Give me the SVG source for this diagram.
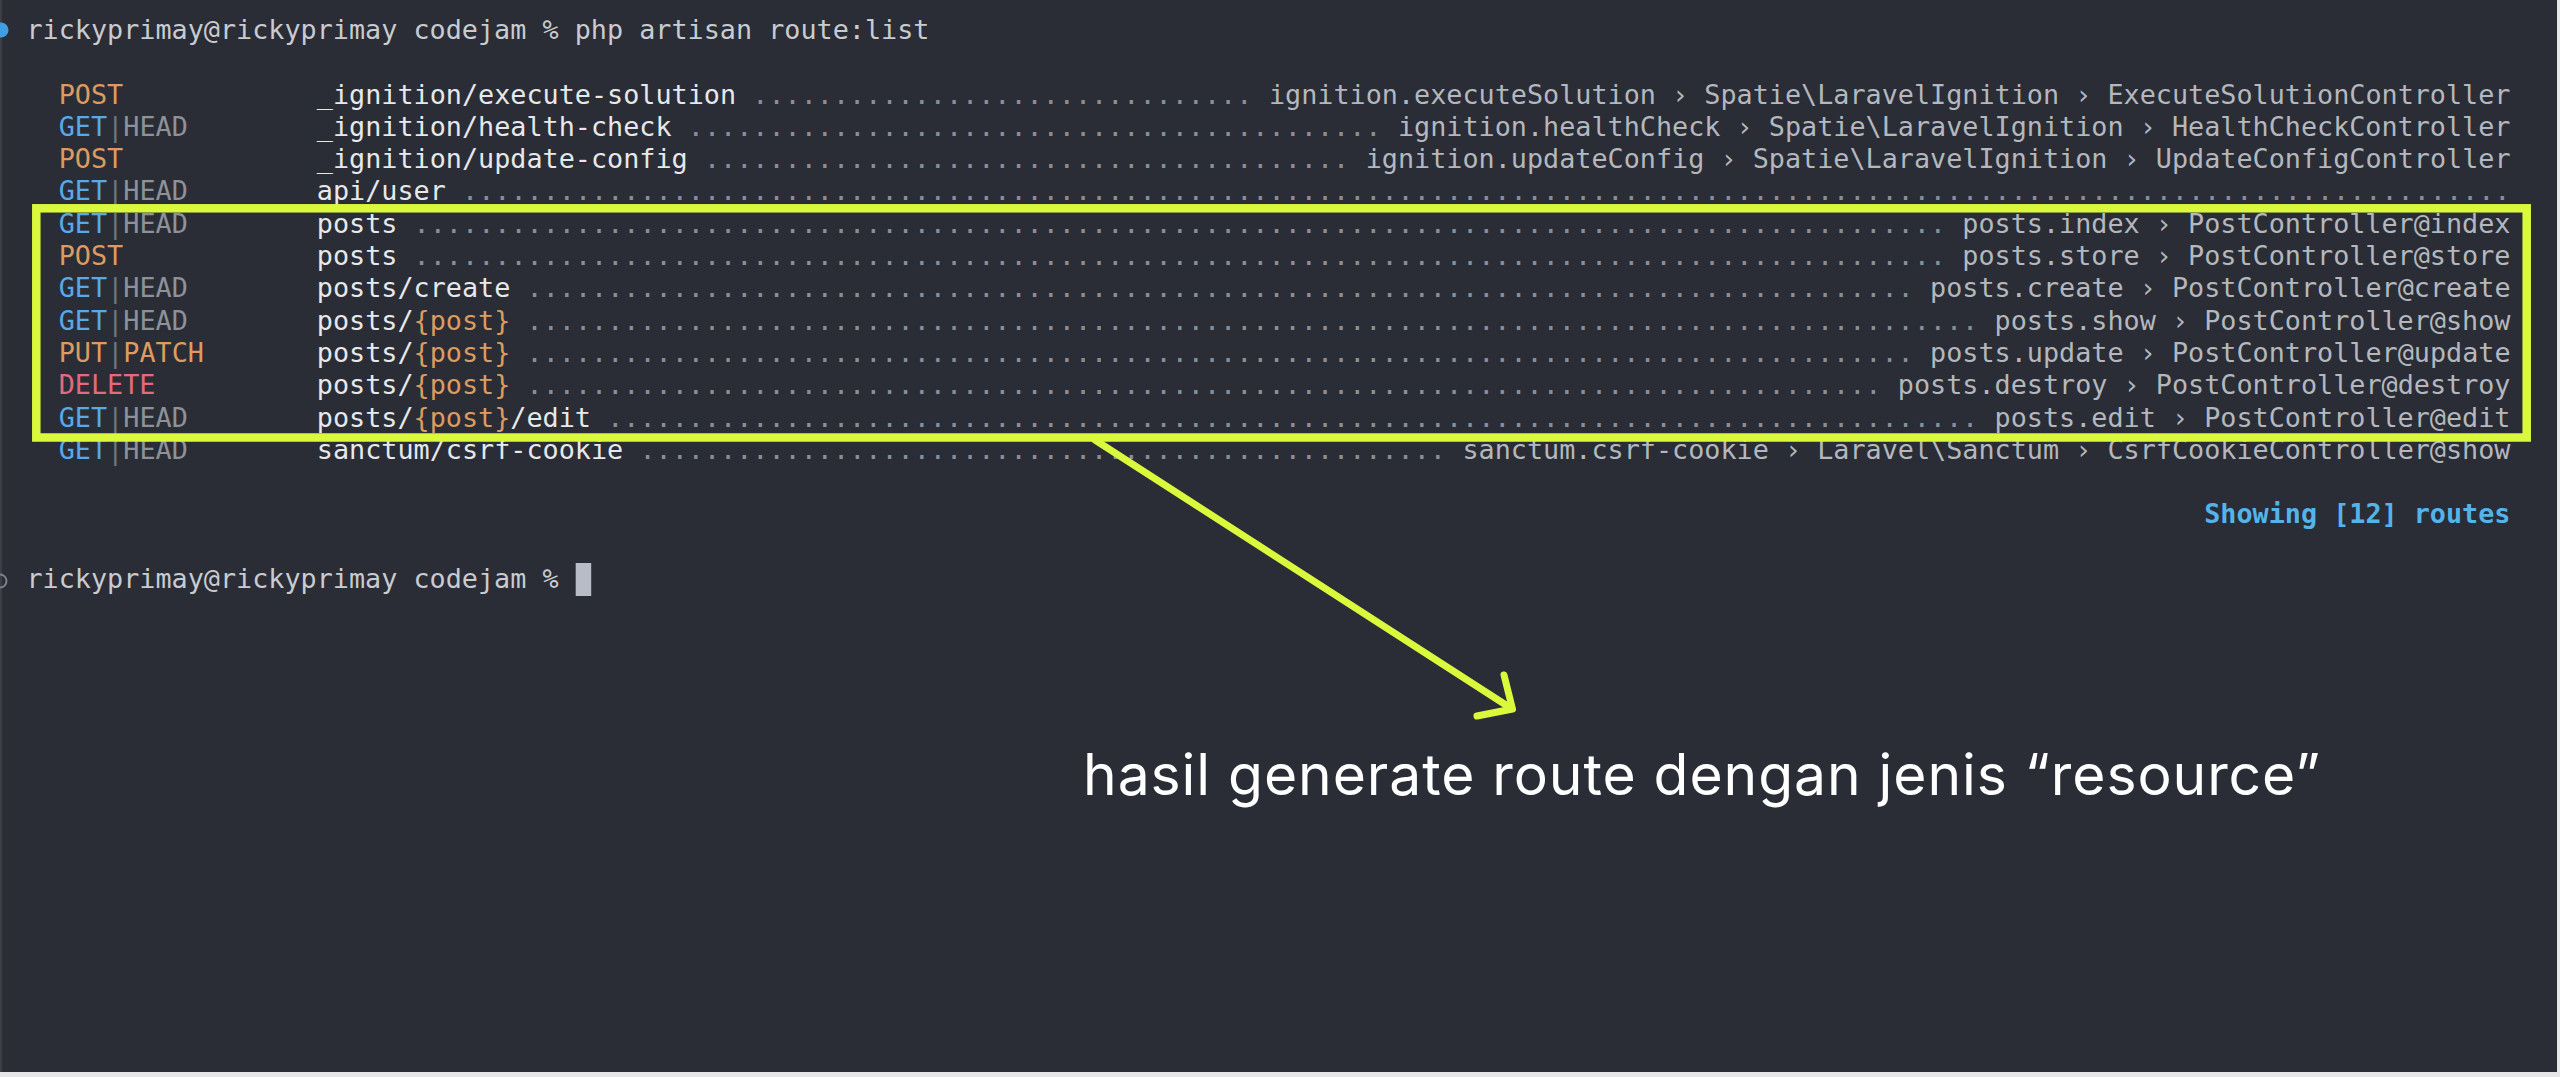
<svg xmlns="http://www.w3.org/2000/svg" width="2560" height="1077" viewBox="0 0 2560 1077">
<style>
.m{font-family:"DejaVu Sans Mono","Liberation Mono",monospace;font-size:26.79px}
.pr{fill:#c8cbd0}
.u{fill:#e6e8eb}
.a{fill:#b4b8be}
.d{fill:#8a8f97}
.g{fill:#58a9e8}
.h{fill:#8d929a}
.s{fill:#6f7582}
.p{fill:#dd9b5f}
.r{fill:#e36a7c}
.hl{fill:none;stroke:#daf93c;stroke-width:8.5}
.ar{fill:none;stroke:#daf93c;stroke-width:7;stroke-linecap:round;stroke-linejoin:round}
.note{font-family:Inter,"Liberation Sans",sans-serif;font-size:57px;fill:#ffffff}
</style>
<rect x="0" y="0" width="2560" height="1077" fill="#2a2d35"/>
<rect x="0" y="0" width="2" height="1077" fill="#3c3f46"/>
<rect x="2557" y="0" width="3" height="1077" fill="#e6e6e8"/>
<rect x="0" y="1072" width="2560" height="5" fill="#e6e6e8"/>

<g id="prompt-1">
<circle cx="1" cy="30" r="7.5" fill="#3e9fe4"/>
<text class="m pr" x="26.5" y="38.9">rickyprimay@rickyprimay codejam % php artisan route:list</text>
</g>

<g id="route-1">
<text class="m" y="103.5"><tspan x="58.76" class="p">POST</tspan></text>
<text class="m u" x="316.84" y="103.5">_ignition/execute-solution</text>
<text class="m d" x="752.35" y="103.5" textLength="500.03" lengthAdjust="spacingAndGlyphs">...............................</text>
<text class="m a" x="2510.5" y="103.5" text-anchor="end">ignition.executeSolution › Spatie\LaravelIgnition › ExecuteSolutionController</text>
</g>
<g id="route-2">
<text class="m" y="135.8"><tspan x="58.76" class="g">GET</tspan><tspan x="107.15" class="s">|</tspan><tspan x="123.28" class="h">HEAD</tspan></text>
<text class="m u" x="316.84" y="135.8">_ignition/health-check</text>
<text class="m d" x="687.83" y="135.8" textLength="693.59" lengthAdjust="spacingAndGlyphs">...........................................</text>
<text class="m a" x="2510.5" y="135.8" text-anchor="end">ignition.healthCheck › Spatie\LaravelIgnition › HealthCheckController</text>
</g>
<g id="route-3">
<text class="m" y="168.1"><tspan x="58.76" class="p">POST</tspan></text>
<text class="m u" x="316.84" y="168.1">_ignition/update-config</text>
<text class="m d" x="703.96" y="168.1" textLength="645.2" lengthAdjust="spacingAndGlyphs">........................................</text>
<text class="m a" x="2510.5" y="168.1" text-anchor="end">ignition.updateConfig › Spatie\LaravelIgnition › UpdateConfigController</text>
</g>
<g id="route-4">
<text class="m" y="200.4"><tspan x="58.76" class="g">GET</tspan><tspan x="107.15" class="s">|</tspan><tspan x="123.28" class="h">HEAD</tspan></text>
<text class="m u" x="316.84" y="200.4">api/user</text>
<text class="m d" x="462.01" y="200.4" textLength="2048.51" lengthAdjust="spacingAndGlyphs">...............................................................................................................................</text>
</g>
<g id="route-5">
<text class="m" y="232.7"><tspan x="58.76" class="g">GET</tspan><tspan x="107.15" class="s">|</tspan><tspan x="123.28" class="h">HEAD</tspan></text>
<text class="m u" x="316.84" y="232.7">posts</text>
<text class="m d" x="413.62" y="232.7" textLength="1532.35" lengthAdjust="spacingAndGlyphs">...............................................................................................</text>
<text class="m a" x="2510.5" y="232.7" text-anchor="end">posts.index › PostController@index</text>
</g>
<g id="route-6">
<text class="m" y="265"><tspan x="58.76" class="p">POST</tspan></text>
<text class="m u" x="316.84" y="265">posts</text>
<text class="m d" x="413.62" y="265" textLength="1532.35" lengthAdjust="spacingAndGlyphs">...............................................................................................</text>
<text class="m a" x="2510.5" y="265" text-anchor="end">posts.store › PostController@store</text>
</g>
<g id="route-7">
<text class="m" y="297.3"><tspan x="58.76" class="g">GET</tspan><tspan x="107.15" class="s">|</tspan><tspan x="123.28" class="h">HEAD</tspan></text>
<text class="m u" x="316.84" y="297.3">posts/create</text>
<text class="m d" x="526.53" y="297.3" textLength="1387.18" lengthAdjust="spacingAndGlyphs">......................................................................................</text>
<text class="m a" x="2510.5" y="297.3" text-anchor="end">posts.create › PostController@create</text>
</g>
<g id="route-8">
<text class="m" y="329.6"><tspan x="58.76" class="g">GET</tspan><tspan x="107.15" class="s">|</tspan><tspan x="123.28" class="h">HEAD</tspan></text>
<text class="m u" x="316.84" y="329.6">posts/<tspan class="p">{post}</tspan></text>
<text class="m d" x="526.53" y="329.6" textLength="1451.7" lengthAdjust="spacingAndGlyphs">..........................................................................................</text>
<text class="m a" x="2510.5" y="329.6" text-anchor="end">posts.show › PostController@show</text>
</g>
<g id="route-9">
<text class="m" y="361.9"><tspan x="58.76" class="p">PUT</tspan><tspan x="107.15" class="s">|</tspan><tspan x="123.28" class="p">PATCH</tspan></text>
<text class="m u" x="316.84" y="361.9">posts/<tspan class="p">{post}</tspan></text>
<text class="m d" x="526.53" y="361.9" textLength="1387.18" lengthAdjust="spacingAndGlyphs">......................................................................................</text>
<text class="m a" x="2510.5" y="361.9" text-anchor="end">posts.update › PostController@update</text>
</g>
<g id="route-10">
<text class="m" y="394.2"><tspan x="58.76" class="r">DELETE</tspan></text>
<text class="m u" x="316.84" y="394.2">posts/<tspan class="p">{post}</tspan></text>
<text class="m d" x="526.53" y="394.2" textLength="1354.92" lengthAdjust="spacingAndGlyphs">....................................................................................</text>
<text class="m a" x="2510.5" y="394.2" text-anchor="end">posts.destroy › PostController@destroy</text>
</g>
<g id="route-11">
<text class="m" y="426.5"><tspan x="58.76" class="g">GET</tspan><tspan x="107.15" class="s">|</tspan><tspan x="123.28" class="h">HEAD</tspan></text>
<text class="m u" x="316.84" y="426.5">posts/<tspan class="p">{post}</tspan>/edit</text>
<text class="m d" x="607.18" y="426.5" textLength="1371.05" lengthAdjust="spacingAndGlyphs">.....................................................................................</text>
<text class="m a" x="2510.5" y="426.5" text-anchor="end">posts.edit › PostController@edit</text>
</g>
<g id="route-12">
<text class="m" y="458.8"><tspan x="58.76" class="g">GET</tspan><tspan x="107.15" class="s">|</tspan><tspan x="123.28" class="h">HEAD</tspan></text>
<text class="m u" x="316.84" y="458.8">sanctum/csrf-cookie</text>
<text class="m d" x="639.44" y="458.8" textLength="806.5" lengthAdjust="spacingAndGlyphs">..................................................</text>
<text class="m a" x="2510.5" y="458.8" text-anchor="end">sanctum.csrf-cookie › Laravel\Sanctum › CsrfCookieController@show</text>
</g>

<g id="route-count">
<text class="m" x="2510.5" y="523.4" text-anchor="end" font-weight="bold" fill="#54b4ea">Showing [12] routes</text>
</g>

<g id="prompt-2">
<circle cx="0" cy="581" r="6.5" fill="none" stroke="#7d8189" stroke-width="2"/>
<text class="m pr" x="26.5" y="587.9">rickyprimay@rickyprimay codejam %</text>
<rect x="575.7" y="563" width="15.5" height="33" fill="#b7bcc6"/>
</g>

<g id="highlight-box">
<rect class="hl" x="36.3" y="208.3" width="2490.4" height="229.2"/>
</g>

<g id="connectors">
<path class="ar" d="M1095 440 L1511 708.3"/>
<path class="ar" d="M1504 675 L1512.5 709 L1477 716"/>
</g>

<g id="annotation">
<text class="note" x="1083" y="795" textLength="1237" lengthAdjust="spacing">hasil generate route dengan jenis “resource”</text>
</g>
</svg>
